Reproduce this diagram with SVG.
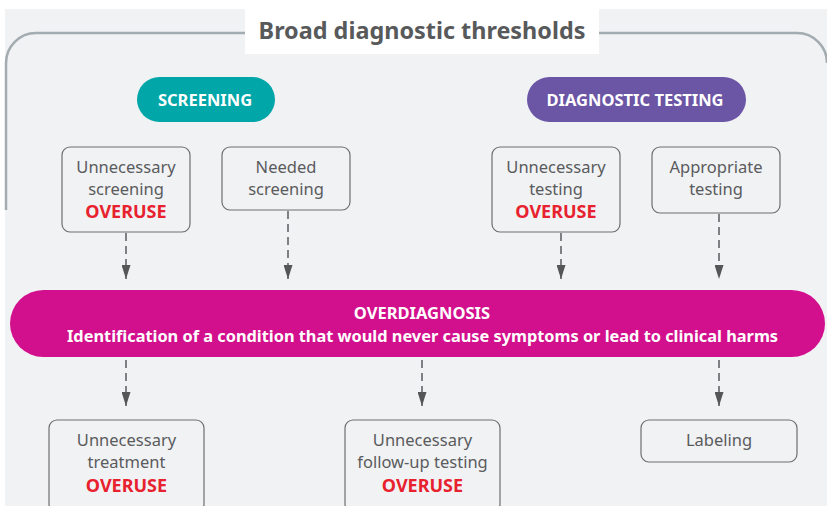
<svg xmlns="http://www.w3.org/2000/svg" width="827" height="506" viewBox="0 0 827 506">
<defs>
<style>
.t{font-family:"Noto Sans","Open Sans","Liberation Sans",sans-serif;font-size:16.5px;fill:#5a5b5d;text-anchor:middle}
.o{font-family:"Noto Sans","Open Sans","Liberation Sans",sans-serif;font-size:18px;font-weight:bold;fill:#e8212e;text-anchor:middle}
.w{font-family:"Noto Sans","Open Sans","Liberation Sans",sans-serif;font-size:16.5px;font-weight:bold;fill:#ffffff;text-anchor:middle}
.box{fill:none;stroke:#6d6e70;stroke-width:1.2}
.dash{stroke:#5a5b5d;stroke-width:1.5;stroke-dasharray:8 5;fill:none}
</style>
<marker id="ah" viewBox="0 0 14 9" refX="14" refY="4.5" markerWidth="14" markerHeight="9" markerUnits="userSpaceOnUse" orient="auto">
<path d="M0,0 L14,4.5 L0,9 Z" fill="#555658"/>
</marker>
</defs>
<rect x="0" y="0" width="827" height="506" fill="#ffffff"/>
<rect x="5" y="9" width="822" height="497" fill="#f1f2f4"/>
<g id="frame">
<path d="M6,210 V63 A30,30 0 0 1 36,33 H245 M599,33 H797 A30,30 0 0 1 827,63" fill="none" stroke="#a3acb0" stroke-width="2.5"/>
<rect x="245" y="9" width="354" height="45" fill="#ffffff"/>
<text x="422" y="39" style="font-family:'Noto Sans','Open Sans','Liberation Sans',sans-serif;font-size:23.4px;font-weight:bold;fill:#58595b;text-anchor:middle">Broad diagnostic thresholds</text>
</g>
<g id="screening">
<rect x="137" y="77" width="138" height="45" rx="22.5" fill="#00a6a8"/>
<text class="w" x="205" y="105.5">SCREENING</text>
</g>
<g id="diagnostic-testing">
<rect x="527" y="77" width="219" height="45" rx="22.5" fill="#6b55a5"/>
<text class="w" x="635" y="105.5">DIAGNOSTIC TESTING</text>
</g>
<g id="unnecessary-screening">
<rect class="box" x="62" y="147" width="128" height="85" rx="8"/>
<text class="t" x="126" y="173">Unnecessary</text>
<text class="t" x="126" y="195">screening</text>
<text class="o" x="126" y="218">OVERUSE</text>
</g>
<g id="needed-screening">
<rect class="box" x="222" y="147" width="128" height="63" rx="8"/>
<text class="t" x="286" y="173">Needed</text>
<text class="t" x="286" y="195">screening</text>
</g>
<g id="unnecessary-testing">
<rect class="box" x="492" y="147" width="128" height="85" rx="8"/>
<text class="t" x="556" y="173">Unnecessary</text>
<text class="t" x="556" y="195">testing</text>
<text class="o" x="556" y="218">OVERUSE</text>
</g>
<g id="appropriate-testing">
<rect class="box" x="652" y="147" width="128" height="66" rx="8"/>
<text class="t" x="716" y="173">Appropriate</text>
<text class="t" x="716" y="195">testing</text>
</g>
<g id="overdiagnosis">
<rect x="10" y="290" width="815" height="67" rx="33.5" fill="#d20f8c"/>
<text class="w" x="422" y="319">OVERDIAGNOSIS</text>
<text class="w" x="422.5" y="342" textLength="711" lengthAdjust="spacingAndGlyphs">Identification of a condition that would never cause symptoms or lead to clinical harms</text>
</g>
<g id="unnecessary-treatment">
<rect class="box" x="49" y="420" width="155" height="92" rx="8"/>
<text class="t" x="126.5" y="446">Unnecessary</text>
<text class="t" x="126.5" y="468">treatment</text>
<text class="o" x="126.5" y="492">OVERUSE</text>
</g>
<g id="unnecessary-follow-up">
<rect class="box" x="345" y="420" width="155" height="92" rx="8"/>
<text class="t" x="422.5" y="446">Unnecessary</text>
<text class="t" x="422.5" y="468">follow-up testing</text>
<text class="o" x="422.5" y="492">OVERUSE</text>
</g>
<g id="labeling">
<rect class="box" x="641" y="420" width="156" height="42" rx="8"/>
<text class="t" x="719" y="446">Labeling</text>
</g>
<g id="connectors">
<path class="dash" d="M126,233 V279" marker-end="url(#ah)"/>
<path class="dash" d="M288,211 V279" marker-end="url(#ah)"/>
<path class="dash" d="M561,233 V279" marker-end="url(#ah)"/>
<path class="dash" d="M719,214 V279" marker-end="url(#ah)"/>
<path class="dash" d="M126,360 V406" marker-end="url(#ah)"/>
<path class="dash" d="M422,360 V406" marker-end="url(#ah)"/>
<path class="dash" d="M719,360 V406" marker-end="url(#ah)"/>
</g>
</svg>
